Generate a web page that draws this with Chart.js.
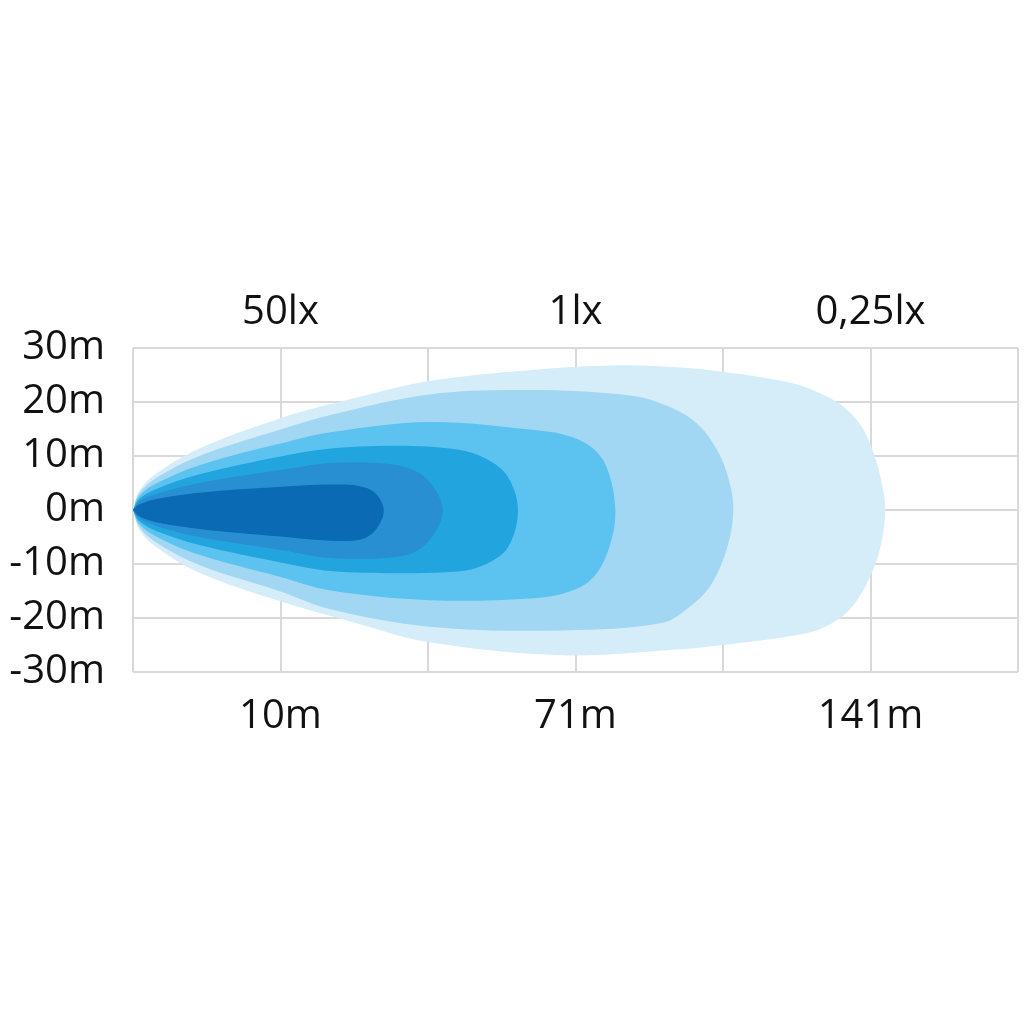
<!DOCTYPE html>
<html>
<head>
<meta charset="utf-8">
<script src="https://cdn.jsdelivr.net/npm/chart.js@4"></script>
<style>
  html, body { margin: 0; padding: 0; background: #fff; }
  #beam { display: block; }
</style>
</head>
<body>
<canvas id="beam" width="1024" height="1024"></canvas>
<script>
// beam contours, x in grid columns (0..6), y in metres
const labelPositions = [1, 3, 5];
const distanceLabels = ['10m', '71m', '141m'];
const luxLabels = ['50lx', '1lx', '0,25lx'];

const contourLightest = [[0,0],[0.04,3.4],[0.15,6.6],[0.45,11.4],[1.0,17.0],[1.47,20.5],[2.01,23.9],[2.69,25.9],[3.3,26.8],[3.71,26.4],[4.0,25.6],[4.45,23.6],[4.66,21.6],[4.83,18.8],[4.95,15],[5.03,9.8],[5.08,4.5],[5.1,0],[5.07,-6.5],[5.0,-12.2],[4.86,-18.4],[4.68,-21.8],[4.45,-23.4],[4.0,-25.0],[3.71,-25.8],[2.92,-26.9],[2.01,-24.5],[1.47,-20.6],[1.0,-16.9],[0.45,-11.6],[0.15,-6.7],[0.04,-3.5],[0,0]];
const contourLight = [[0,0],[0.04,3.0],[0.15,5.8],[0.45,10.0],[1.0,14.9],[1.34,17.6],[2.01,21.4],[2.69,22.2],[3.37,21.2],[3.62,19.3],[3.82,16.1],[3.96,11.1],[4.04,5.6],[4.07,0],[4.03,-6.8],[3.92,-13.8],[3.78,-17.8],[3.59,-20.9],[2.92,-22.3],[2.01,-21.6],[1.34,-18.4],[1.0,-15.1],[0.45,-10.2],[0.15,-5.9],[0.04,-3.0],[0,0]];
const contourMid = [[0,0],[0.04,2.5],[0.15,4.8],[0.45,8.3],[1.0,12.3],[1.34,14.4],[2.01,16.3],[2.69,14.9],[2.93,13.9],[3.1,11.8],[3.21,8.0],[3.27,0],[3.23,-6.8],[3.12,-12.5],[2.95,-15.2],[2.69,-16.4],[2.01,-16.7],[1.34,-14.9],[1.0,-12.4],[0.45,-8.3],[0.15,-4.8],[0.04,-2.5],[0,0]];
const contourDeep = [[0,0],[0.04,2.0],[0.15,3.8],[0.45,6.6],[1.0,9.9],[1.34,11.4],[1.79,11.9],[2.2,11.2],[2.4,9.4],[2.54,6.2],[2.61,0],[2.54,-7.0],[2.38,-10.2],[2.2,-11.4],[1.79,-11.7],[1.34,-11.3],[1.0,-9.7],[0.45,-6.5],[0.15,-3.8],[0.04,-2.0],[0,0]];
const contourDeeper = [[0,0],[0.04,1.5],[0.15,2.9],[0.45,5.0],[1.0,7.4],[1.34,8.7],[1.7,8.6],[1.9,7.4],[2.03,4.6],[2.1,0],[2.03,-4.9],[1.9,-7.9],[1.7,-8.9],[1.34,-8.9],[1.0,-7.4],[0.45,-5.0],[0.15,-2.9],[0.04,-1.5],[0,0]];
const contourDeepest = [[0,0],[0.04,1.0],[0.15,2.0],[0.45,3.2],[1.0,4.3],[1.34,4.7],[1.52,4.5],[1.64,3.2],[1.7,0],[1.65,-3.5],[1.55,-5.4],[1.34,-5.7],[1.0,-4.9],[0.45,-3.5],[0.15,-2.2],[0.04,-1.1],[0,0]];

// darkest first so it is drawn on top
const contours = [contourDeepest, contourDeeper, contourDeep, contourMid, contourLight, contourLightest];
const colors = ['#0a6ab4', '#298fd3', '#22a5de', '#5cc3f0', '#a1d7f3', '#d5ecf9'];

const font = { family: "'Open Sans', 'Noto Sans', sans-serif", size: 40 };

function labelAt(value, list) {
  const i = labelPositions.indexOf(value);
  return i >= 0 ? list[i] : '';
}

function fitX(height) {
  return s => {
    s.height = height;
    s.paddingLeft = 0;
    s.paddingRight = 0;
  };
}

new Chart(document.getElementById('beam'), {
  type: 'scatter',
  data: {
    datasets: contours.map((pts, i) => ({
      data: pts.map(p => ({ x: p[0], y: p[1] })),
      showLine: true,
      fill: 'shape',
      backgroundColor: colors[i],
      borderColor: colors[i],
      borderWidth: 0,
      pointRadius: 0,
      tension: 0.35
    }))
  },
  options: {
    responsive: false,
    animation: false,
    layout: { padding: { left: 0, right: 6, top: 0, bottom: 0 } },
    plugins: { legend: { display: false }, tooltip: { enabled: false } },
    scales: {
      x: {
        type: 'linear',
        position: 'bottom',
        min: 0,
        max: 6,
        afterFit: fitX(352),
        border: { display: false },
        grid: { color: '#d9d9d9', lineWidth: 2, drawTicks: false },
        ticks: {
          stepSize: 1, autoSkip: false, maxRotation: 0, padding: 21,
          color: '#111', font: font,
          callback: v => labelAt(v, distanceLabels)
        }
      },
      xTop: {
        type: 'linear',
        position: 'top',
        min: 0,
        max: 6,
        afterFit: fitX(348),
        border: { display: false },
        grid: { display: false, drawTicks: false },
        ticks: {
          stepSize: 1, autoSkip: false, maxRotation: 0, padding: 11,
          color: '#111', font: font,
          callback: v => labelAt(v, luxLabels)
        }
      },
      y: {
        min: -30,
        max: 30,
        afterFit: s => { s.width = 133; },
        border: { display: false },
        grid: { color: '#d9d9d9', lineWidth: 2, drawTicks: false },
        ticks: {
          stepSize: 10, padding: 28,
          color: '#111', font: font,
          callback: v => v + 'm'
        }
      }
    }
  }
});
</script>
</body>
</html>
